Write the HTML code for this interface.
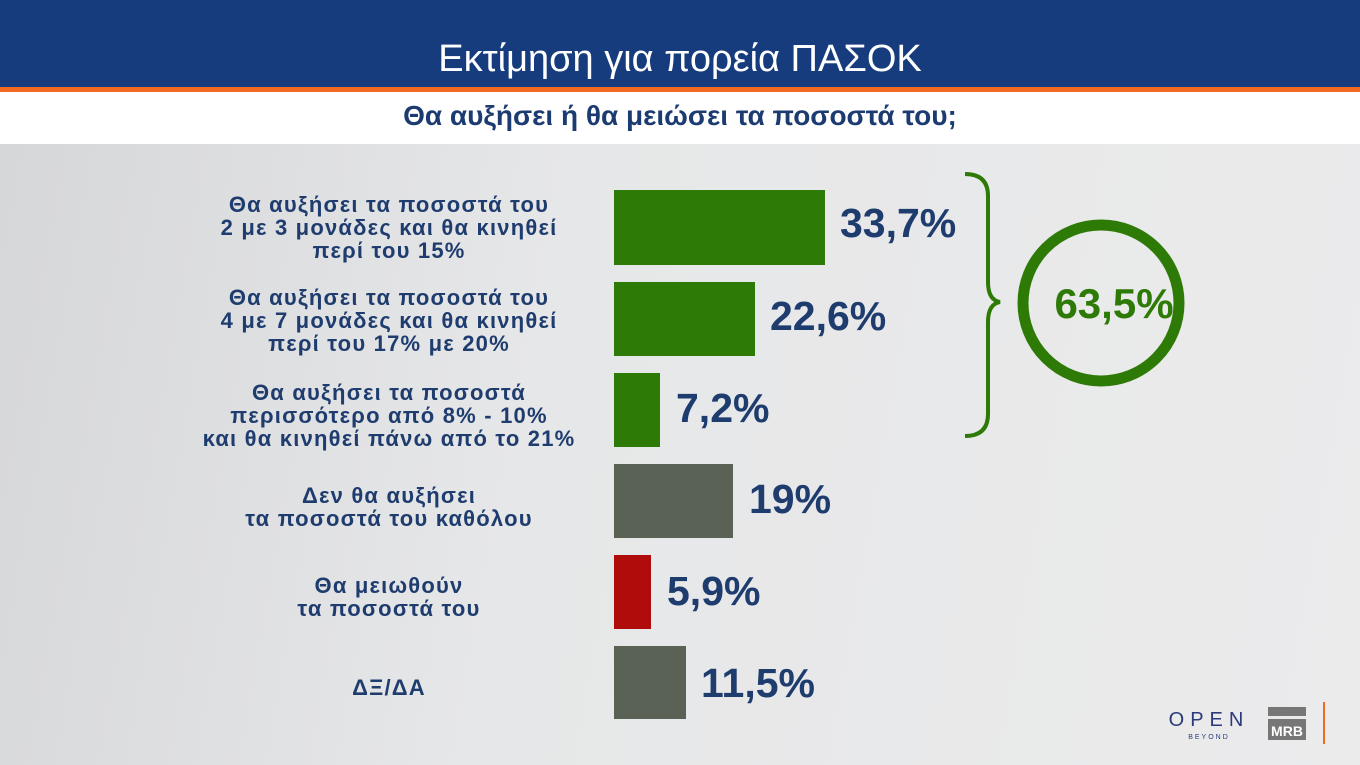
<!DOCTYPE html>
<html><head><meta charset="utf-8"><style>
body{margin:0;width:1360px;height:765px;overflow:hidden;font-family:"Liberation Sans","DejaVu Sans",sans-serif;background:linear-gradient(100deg,#d5d6d8 0%,#e6e7e8 40%,#ebebec 100%);position:relative}
.hdr{position:absolute;left:0;top:0;width:1360px;height:87px;background:#173c7e;color:#fff;font-size:38px;text-align:center;line-height:118px}
.or{position:absolute;top:87px;left:0;width:1360px;height:5px;background:#f26a21}
.sub{position:absolute;top:92px;left:0;width:1360px;height:52px;background:#fff;color:#1c3b70;font-weight:bold;font-size:28px;text-align:center;line-height:48px}
.bar{position:absolute;left:614px}
.v{position:absolute;color:#1f3c6f;font-weight:bold;font-size:41px}
.l{position:absolute;left:150px;width:478px;text-align:center;color:#1f3c6f;font-weight:bold;font-size:22px;letter-spacing:1.2px;line-height:23px}
</style></head><body>
<div class="hdr">Εκτίμηση για πορεία ΠΑΣΟΚ</div>
<div class="or"></div>
<div class="sub">Θα αυξήσει ή θα μειώσει τα ποσοστά του;</div>

<div class="bar" style="top:190px;width:211px;height:75px;background:#2d7a06"></div>
<div class="bar" style="top:282px;width:141px;height:74px;background:#2d7a06"></div>
<div class="bar" style="top:373px;width:46px;height:74px;background:#2d7a06"></div>
<div class="bar" style="top:464px;width:119px;height:74px;background:#5a6256"></div>
<div class="bar" style="top:555px;width:37px;height:74px;background:#b00c0c"></div>
<div class="bar" style="top:646px;width:72px;height:73px;background:#5a6256"></div>

<div class="v" style="left:840px;top:200px">33,7%</div>
<div class="v" style="left:770px;top:293px">22,6%</div>
<div class="v" style="left:676px;top:385px">7,2%</div>
<div class="v" style="left:749px;top:476px">19%</div>
<div class="v" style="left:667px;top:568px">5,9%</div>
<div class="v" style="left:701px;top:660px">11,5%</div>

<div class="l" style="top:193px">Θα αυξήσει τα ποσοστά του<br>2 με 3 μονάδες και θα κινηθεί<br>περί του 15%</div>
<div class="l" style="top:286px">Θα αυξήσει τα ποσοστά του<br>4 με 7 μονάδες και θα κινηθεί<br>περί του 17% με 20%</div>
<div class="l" style="top:381px">Θα αυξήσει τα ποσοστά<br>περισσότερο από 8% - 10%<br>και θα κινηθεί πάνω από το 21%</div>
<div class="l" style="top:484px">Δεν θα αυξήσει<br>τα ποσοστά του καθόλου</div>
<div class="l" style="top:574px">Θα μειωθούν<br>τα ποσοστά του</div>
<div class="l" style="top:676px">ΔΞ/ΔΑ</div>

<svg style="position:absolute;left:0;top:0" width="1360" height="765">
<path d="M965,174 Q988,174 988,196 L988,282 Q988,300 1000,302 Q988,304 988,322 L988,414 Q988,436 965,436" fill="none" stroke="#2d7a06" stroke-width="4"/>
<circle cx="1101" cy="303" r="78" fill="none" stroke="#2d7a06" stroke-width="11"/>
<text x="1114" y="318" text-anchor="middle" font-family="Liberation Sans" font-weight="bold" font-size="42" fill="#2d7a06">63,5%</text>
<text x="1209" y="726" text-anchor="middle" font-family="Liberation Sans" font-size="20" letter-spacing="6" fill="#2a3a7a">OPEN</text>
<text x="1209" y="739" text-anchor="middle" font-family="Liberation Sans" font-size="7" letter-spacing="2" fill="#2a3a7a">BEYOND</text>
<rect x="1268" y="707" width="38" height="9" fill="#777"/>
<rect x="1268" y="719" width="38" height="21" fill="#777"/>
<text x="1287" y="736" text-anchor="middle" font-family="Liberation Sans" font-weight="bold" font-size="14" fill="#fff">MRB</text>
<rect x="1323" y="702" width="2" height="42" fill="#f26a21"/>
</svg>
</body></html>
